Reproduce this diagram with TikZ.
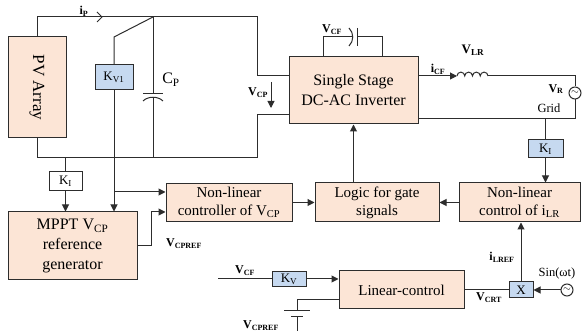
\documentclass[tikz,border=0pt]{standalone}
\usepackage{fontspec}
\setmainfont{Liberation Serif}
\usepackage{xcolor}
\usepackage{graphicx}
\usepackage{tikz}
\usetikzlibrary{arrows.meta, positioning}

\definecolor{kasten}{RGB}{252,229,214}
\definecolor{regler}{RGB}{198,217,240}
\definecolor{linie}{RGB}{45,45,45}

\tikzset{
	wire/.style={draw=linie, line width=1pt},
	pfeil/.style={wire, -{Triangle[length=7pt,width=7pt]}},
	block/.style={draw=linie, fill=kasten, line width=1pt, inner sep=0pt, align=center,
		font=\fontsize{15}{18}\selectfont},
	gain/.style={draw=linie, fill=regler, line width=1pt, inner sep=0pt,
		font=\fontsize{13}{15}\selectfont},
	quelle/.style={draw=linie, circle, line width=1pt, minimum size=12pt, inner sep=0pt},
	beschr/.style={inner sep=0pt, font=\fontsize{12}{14}\selectfont\bfseries},
	text12/.style={inner sep=0pt, font=\fontsize{12.5}{14}\selectfont}
}

\begin{document}
\begin{tikzpicture}[x=1pt, y=-1pt]
	\useasboundingbox (0,0) rectangle (582,336);
	% PV-Feld
	\node[
		block,
		minimum width=58pt,
		minimum height=101pt,
		font=\fontsize{17}{20}\selectfont
	] (pv) at (37,87.5) {\rotatebox{-90}{PV Array}};
	% Kv1
	\node[
		gain,
		minimum width=38pt,
		minimum height=25pt
	] (kvone) at (114,77.5) {K\textsubscript{V1}};
	% Wechselrichter
	\node[
		block,
		minimum width=129pt,
		minimum height=67pt,
		font=\fontsize{16}{20}\selectfont
	] (inv) at (353.5,90.5) {Single Stage\\DC-AC Inverter};
	% KI (rechts)
	\node[
		gain,
		minimum width=35pt,
		minimum height=18pt
	] (kione) at (545.5,149) {K\textsubscript{I}};
	% KI (links)
	\node[
		gain,
		fill=white,
		minimum width=33pt,
		minimum height=19pt
	] (kitwo) at (65.5,181.5) {K\textsubscript{I}};
	% MPPT
	\node[
		block,
		minimum width=129pt,
		minimum height=68pt,
		font=\fontsize{16}{20}\selectfont
	] (mppt) at (72.5,246) {MPPT V\textsubscript{CP}\\reference\\generator};
	% Regler
	\node[
		block,
		minimum width=126pt,
		minimum height=38pt
	] (nlv) at (229,202.5) {Non-linear\\controller of V\textsubscript{CP}};
	\node[
		block,
		minimum width=124pt,
		minimum height=39pt
	] (logic) at (377,202.5) {Logic for gate\\signals};
	\node[
		block,
		minimum width=121pt,
		minimum height=39pt
	] (nli) at (519.5,202.5) {Non-linear\\control of i\textsubscript{LR}};
	\node[
		block,
		minimum width=125pt,
		minimum height=38pt
	] (lin) at (401.5,290) {Linear-control};
	\node[
		gain,
		minimum width=24pt,
		minimum height=16pt
	] (xmul) at (521,290) {X};
	\node[
		gain,
		minimum width=34pt,
		minimum height=15pt
	] (kv) at (289,279) {K\textsubscript{V}};
	% Quellen
	\node[quelle] (netz) at (575,93) {$\sim$};
	\node[quelle] (sinus) at (567,290) {$\sim$};

	% Leistungskreis
	\coordinate (ol) at (257,17);
	\coordinate (ul) at (257,158);
	\coordinate (cpo) at (153,17);
	\coordinate (cpu) at (153,158);
	\draw[wire] (pv.north) |- (ol) |- ([yshift=14.5pt]inv.west);
	\draw[wire] (pv.south) |- (ul) |- ([yshift=-24.5pt]inv.west);
	% Schalter
	\draw[wire] (kvone.north) -- (114,37) -- (cpo);
	% Kondensator Cp
	\draw[wire] (cpo) -- (153,94);
	\draw[wire] (143,94) -- (163,94);
	\draw[wire] (143,101) .. controls (148,96) and (158,96) .. (163,101);
	\draw[wire] (153,98) -- (cpu);
	\node[
		inner sep=0pt,
		font=\fontsize{16}{18}\selectfont
	] (cp) at (171,80) {C\textsubscript{P}};
	% Strom ip
	\node[beschr] (ip) at (84,11) {i\textsubscript{P}};
	\draw[wire] (97,12) -- (102,17) -- (97,22);
	% Spannung vCP
	\node[beschr] (vcp) at (258,93) {V\textsubscript{CP}};
	\coordinate (vcpa) at (271,82);
	\coordinate (vcpb) at (271,108);
	\draw[pfeil] (vcpa) -- (vcpb);
	% Kondensator CF
	\coordinate (cfl) at (323,37);
	\coordinate (cfr) at (382,37);
	\draw[wire] (inv.north -| cfl) -- (cfl) -- (352,37);
	\draw[wire] (349,28) .. controls (354,33) and (354,41) .. (349,46);
	\draw[wire] (357,28) -- (357,46);
	\draw[wire] (357,37) -- (cfr) -- (inv.north -| cfr);
	\node[beschr] (vcf) at (332,30) {V\textsubscript{CF}};
	% Drossel
	\coordinate (lanf) at (457,76);
	\coordinate (lend) at (488,76);
	\draw[pfeil] ([yshift=14.5pt]inv.east) -- (lanf);
	\node[beschr] (icf) at (438,69) {i\textsubscript{CF}};
	\draw[wire] (lanf) \foreach \i in {1,...,4} {
		arc[start angle=180, end angle=360, radius=3.875]};
	\node[
		inner sep=0pt,
		font=\fontsize{13}{15}\selectfont\bfseries
	] (vlr) at (473,50) {V\textsubscript{LR}};
	% Netz
	\coordinate (gridoben) at (575,76);
	\coordinate (gridunten) at (575,119);
	\draw[wire] (lend) -- (gridoben) -- (netz.north);
	\draw[wire] (netz.south) -- (gridunten) -- (gridunten -| inv.east);
	\node[beschr] (vr) at (556,89) {V\textsubscript{R}};
	\node[text12] (grid) at (549,108) {Grid};

	% Messung und Regelung
	\draw[wire] (gridunten -| kione.north) -- (kione.north);
	\draw[pfeil] (kione.south) -- (kione.south |- nli.north);
	\draw[wire] (kitwo.north |- ul) -- (kitwo.north);
	\draw[pfeil] (kitwo.south) -- (kitwo.south |- mppt.north);
	\coordinate (abzw) at (114,192);
	\draw[pfeil] (kvone.south) -- (kvone.south |- mppt.north);
	\draw[pfeil] (abzw) -- (abzw -| nlv.west);
	\coordinate (mo) at (151,212);
	\draw[pfeil] (mppt.east) -| (mo) -- (mo -| nlv.west);
	\node[beschr] (vcpref) at (184,244) {V\textsubscript{CPREF}};
	\draw[pfeil] (nlv.east) -- (logic.west);
	\draw[pfeil] (nli.west) -- (logic.east);
	\draw[pfeil] (inv.south |- logic.north) -- (inv.south);

	% Linearer Regler
	\coordinate (vcfein) at (218,279);
	\draw[wire] (vcfein) -- (kv.west);
	\node[beschr] (vcfb) at (245,271) {V\textsubscript{CF}};
	\draw[pfeil] (kv.east) -- (kv.east -| lin.west);
	\coordinate (batt) at (297,311);
	\draw[wire] ([yshift=-10pt]lin.west) -| (batt);
	\draw[wire] (284,311) -- (310,311);
	\draw[wire] (291,317) -- (303,317);
	\draw[wire] (297,317) -- (297,331);
	\node[beschr] (vcprefb) at (261,326) {V\textsubscript{CPREF}};
	\draw[wire] (lin.east) -- (xmul.west);
	\node[beschr] (vcrt) at (489,298) {V\textsubscript{CRT}};
	\draw[pfeil] (xmul.north) -- (xmul.north |- nli.south);
	\node[beschr] (ilref) at (502,257) {i\textsubscript{LREF}};
	\draw[pfeil] (sinus.west) -- (xmul.east);
	\node[text12] (sint) at (557,273) {Sin(ωt)};

\end{tikzpicture}
\end{document}
